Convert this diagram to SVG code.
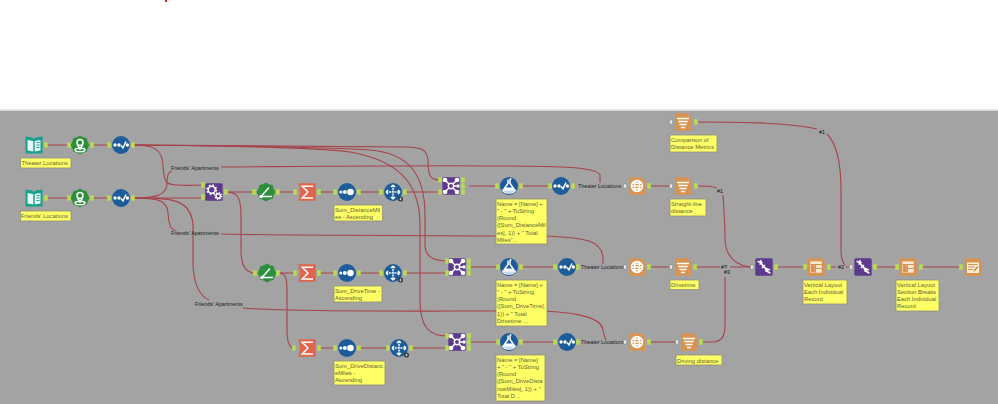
<svg xmlns="http://www.w3.org/2000/svg" width="998" height="404" viewBox="0 0 998 404">
<style>
.w{fill:none;stroke:#a8424a;stroke-width:1.1}
.note{fill:#ffff66;stroke:#8f8f7a;stroke-width:.8}
.nt{font:5.8px "Liberation Sans",Arial,sans-serif;fill:#5f5f33}
.lb{font:5.4px "Liberation Sans",Arial,sans-serif;fill:#1c1c1c}
.hash{font:5.4px "Liberation Sans",Arial,sans-serif;fill:#111}
.s{fill:none;stroke:#fff;stroke-width:1.5}
.f{fill:#fff}
.blue{fill:#1c5c9a}
.green{fill:#2d8f3c}
.purple{fill:#5e3a8e}
.orange{fill:#d99350}
.sum{fill:#e0654a}
</style>
<defs>
<rect id="pin" x="-1.8" y="-2.7" width="3.6" height="5.4" rx=".6" fill="#b8dc50"/>
<rect id="pinw" x="-1.5" y="-2" width="3" height="4" fill="#e8e8e8" stroke="#777" stroke-width=".4"/>
<polygon id="burst" class="green" points="0,-9.500 3,-7.800 6.700,-6.700 7.800,-3 9.500,0 7.800,3 6.700,6.700 3,7.800 0,9.500 -3,7.800 -6.700,6.700 -7.800,3 -9.500,0 -7.800,-3 -6.700,-6.700 -3,-7.800"/>
<g id="i-book">
<path d="M-8.500,-8.500 L-2,-7.500 L0,-6 L2,-7.500 L8.500,-8.500 V8.500 H-8.500Z" fill="#12a08f"/>
<path d="M-6.500,-5 L-.7,-4 V6.500 L-6.500,5.500Z M.7,-4 L6.500,-5 V5.500 L.7,6.500Z" fill="#e8f7f4"/>
<path d="M2.500,-2.500 H5.500 M2.500,0 H5.500 M2.500,2.500 H5.500" stroke="#12a08f" stroke-width="1"/>
</g>
<g id="i-geo">
<use href="#burst"/>
<circle cy="-2.500" r="3" class="s"/>
<path d="M-2.500,0 L0,4 L2.500,0" class="s"/>
<ellipse cy="5" rx="5" ry="1.700" class="s" stroke-width="1"/>
</g>
<g id="i-sel">
<circle r="9" class="blue"/>
<circle cx="-6" cy="0" r="1.700" class="f"/><circle cx="-2" cy="0" r="1.700" class="f"/><circle cx="6.400" cy="0" r="1.700" class="f"/>
<path d="M0,0.500 L2,2.800 L5,-3.500" class="s" stroke-width="1.700"/>
</g>
<g id="i-gear">
<rect x="-8.700" y="-8.700" width="17.400" height="17.400" rx="1.500" class="purple"/>
<circle cx="-2.300" cy="-2.300" r="3.500" class="s" stroke-width="1.300"/>
<circle cx="-2.300" cy="-2.300" r="4.700" class="s" stroke-width="1.400" stroke-dasharray="1.800 1.900"/>
<circle cx="4.300" cy="4" r="2.200" class="s" stroke-width="1"/>
<circle cx="4.300" cy="4" r="3.200" class="s" stroke-width="1" stroke-dasharray="1.200 1.300"/>
</g>
<g id="i-hinge">
<use href="#burst"/>
<path d="M-5,4.500 H6 M-5,4.500 L3,-4.500" class="s" stroke-width="1.700"/>
<circle cx="-5" cy="4.500" r="1.700" class="f"/>
</g>
<g id="i-sum">
<path d="M-8.700,-8.700 H8.700 V8.700 H-8.700 L-7,0Z" class="sum"/>
<path d="M6,-5.800 H-4.800 L1,0 L-4.800,6 H6" class="s" stroke-width="1.700"/>
</g>
<g id="i-sort">
<circle r="9" class="blue"/>
<circle cx="-6.200" r="1.500" class="f"/><circle cx="-2.200" r="2" class="f"/><circle cx="3.500" r="3.300" class="f"/>
</g>
<g id="i-move">
<circle r="9" class="blue"/>
<path d="M-7,0 H7 M0,-7 V7" class="s" stroke-dasharray="2 .8"/>
<path d="M-7,0 L-5,-2 M-7,0 L-5,2 M7,0 L5,-2 M7,0 L5,2 M0,-7 L-2,-5 M0,-7 L2,-5 M0,7 L-2,5 M0,7 L2,5" class="s" stroke-width="1"/>
<circle cx="7.500" cy="7" r="2.500" fill="#333"/>
<path d="M6.200,7 H8.800 M7.500,5.700 V8.300" stroke="#ddd" stroke-width=".8"/>
</g>
<g id="i-append">
<rect x="-8.700" y="-8.700" width="17.400" height="17.400" rx="1.500" class="purple"/>
<circle r="2.700" class="s"/>
<path d="M-2,-2 L-5.500,-5.500 M-2,2 L-5.500,5.500 M2,-2 L5.500,-5.500 M2,2 L5.500,5.500 M2.700,0 H7" class="s" stroke-width="1"/>
<circle cx="-6" cy="-6" r="2.300" class="f"/><circle cx="-6" cy="6" r="2.300" class="f"/><circle cx="6" cy="-6" r="2.300" class="f"/><circle cx="6" cy="6" r="2.300" class="f"/><circle cx="7" r="1.700" class="f"/>
</g>
<g id="i-lab">
<circle r="9" class="blue"/>
<path d="M-1,-6.500 V-2.500 L-5,3 Q-5.500,5 -3,5 H3 Q5.500,5 5,3 L1,-2.500 V-6.500" class="s" stroke-width="1.200"/>
<path d="M-4,1.500 H4 L4.500,4.500 H-4.500Z" class="f"/>
<path d="M-6.500,3.500 Q-6,7 0,7 Q6,7 6.500,3.500" class="s" stroke-width=".9"/>
<circle cx="1.500" cy="-7" r="1" class="f"/>
</g>
<g id="i-globe">
<path d="M-8,-8.700 H4 L8,-4.700 V8.700 H-8Z" class="orange"/>
<circle r="5.500" class="s" stroke-width=".9"/>
<ellipse rx="2.400" ry="5.500" class="s" stroke-width=".8"/>
<path d="M-5.500,0 H5.500 M-4.700,-2.800 H4.700 M-4.700,2.800 H4.700" class="s" stroke-width=".7"/>
</g>
<g id="i-render">
<path d="M-8,-8.700 H4 L8,-4.700 V8.700 H-8Z" class="orange"/>
<path d="M-6,-3.500 H6 M-4.700,-.5 H4.700 M-3.500,2.500 H3.500 M-2,5.500 H2" class="s" stroke-width="1.600"/>
</g>
<g id="i-dna">
<rect x="-8.700" y="-8.700" width="17.400" height="17.400" rx="1.500" class="purple"/>
<path d="M-6.500,-5.500 C-3,-6 -2,-2 0,0 S3,6 6.500,6 M-3,-7 C-4,-3 -2,-2 0,0 S4,2 6,3" class="s" stroke-width="1.500"/>
<path d="M-4.500,-2.500 L-1.500,-5 M-2,1 L1,-2 M1.500,4.500 L4,2" class="s" stroke-width=".9"/>
</g>
<g id="i-layout">
<path d="M-8.700,-8.700 H6.500 L8.700,-6.500 V8.700 H-8.700Z" class="orange"/>
<rect x="-5.700" y="-5.700" width="11.400" height="11.400" fill="#f7e6d2"/>
<path d="M-5.700,-2.500 H5.700 M-.5,-2.500 V5.700 M-.5,1.500 H5.700" stroke="#d99350" stroke-width="1"/>
<rect x="-5" y="-1.800" width="3.800" height="7" class="orange"/>
</g>
<g id="i-doc">
<path d="M-8,-8.700 H5 L8.700,-5 V8.700 H-8Z" class="orange"/>
<rect x="-6" y="-4.500" width="12" height="10.500" fill="#fbeedd"/>
<path d="M-4.800,-2.500 H4.800 M-4.800,0 H1.800 M-4.800,2.500 H0" stroke="#d99350" stroke-width="1"/>
<path d="M1,4 L5,-.5" stroke="#c47a35" stroke-width="1.200"/>
</g>
</defs>

<rect width="998" height="404" fill="#fff"/>
<rect x="165" y="0" width="2" height="2" fill="#e02020"/>
<rect x="0" y="110" width="998" height="294" fill="#a3a3a3"/>
<rect x="0" y="109.500" width="998" height="1.500" fill="#d6d6d6"/>

<!-- wires run behind the tool icons -->
<g id="connectors">
<path class="w" d="M46,145H69M92,145H109"/>
<path class="w" d="M46,198H69M92,198H109"/>
<path class="w" d="M133,198H203M226,192H254M278,192H295M318,192H335M359,192H381M405,192H440"/>
<path class="w" d="M133,145C152,145 162,148 163,165C164,182 165,185 178,185C188,186 195,185 203,185"/>
<path class="w" d="M133,145C250,146 340,147 405,147C422,147 427,150 428,160C428,176 430,180 440,180"/>
<path class="w" d="M133,145C250,146 330,147 370,150C405,153 425,170 425,215V245C425,256 432,261 447,261"/>
<path class="w" d="M133,145C250,146 320,148 350,152C395,160 420,180 420,225V300C420,328 430,336 447,336"/>
<path class="w" d="M133,198C155,198 165,196 167,185C167,175 168,172 172,171"/>
<path class="w" d="M221,167C350,166 450,165 500,166C560,166 597,167 600,175V183"/>
<path class="w" d="M133,198C158,198 167,200 168,213C169,227 171,229 176,231"/>
<path class="w" d="M221,234C310,236 420,235 496,236"/>
<path class="w" d="M547,236C585,238 602,240 603,258V264"/>
<path class="w" d="M133,198C170,198 191,198 193,225V265C194,285 200,296 209,300"/>
<path class="w" d="M243,308C290,312 420,311 496,311"/>
<path class="w" d="M545,311C580,313 602,318 603,330C604,336 605,338 606,340"/>
<path class="w" d="M226,192C236,192 241,195 241,215V250C241,265 245,273 255,273"/>
<path class="w" d="M278,273H295M319,273H335M359,273H381M405,273H447"/>
<path class="w" d="M278,273C285,273 287,276 287,290V330C287,342 289,348 294,348"/>
<path class="w" d="M319,348H335M359,348H388M411,348H447"/>
<path class="w" d="M469,186H497M521,186H550M649,186H671"/>
<path class="w" d="M469,267H498M521,267H555M649,267H671"/>
<path class="w" d="M469,342H498M521,342H555M649,342H677"/>
<path class="w" d="M698,122C750,122 790,123 817,129"/>
<path class="w" d="M827,134C838,145 841,165 841,190V250C841,258 843,263 845,265"/>
<path class="w" d="M698,186C708,186 712,186 717,188"/>
<path class="w" d="M723,195C724,210 725,225 725,240C726,255 733,265 750,267"/>
<path class="w" d="M696,267H720M730,267H752"/>
<path class="w" d="M703,342H712C722,342 725,336 725,325V277"/>
<path class="w" d="M776,267H805M829,267H836M846,267H851M875,267H897M921,267H961"/>
<text class="lb" x="171" y="170">Friends' Apartments</text>
<text class="lb" x="171" y="235">Friends' Apartments</text>
<text class="lb" x="195" y="306">Friends' Apartments</text>
<text class="lb" x="578" y="188">Theater Locations</text>
<text class="lb" x="581" y="269">Theater Locations</text>
<text class="lb" x="581" y="344">Theater Locations</text>
<text class="hash" x="819" y="134">#1</text>
<text class="hash" x="717" y="193">#1</text>
<text class="hash" x="721" y="269">#?</text>
<text class="hash" x="724" y="274">#3</text>
<text class="hash" x="838" y="269">#2</text>
</g>

<g id="theater-input"><use href="#i-book" x="34" y="145"/><use href="#pin" x="46" y="145"/>
<rect class="note" x="20.500" y="158" width="50.500" height="10"/><text class="nt" x="21.500" y="165">Theater Locations</text></g>
<g id="theater-geocode"><use href="#i-geo" x="80" y="145"/><use href="#pin" x="69" y="145"/><use href="#pin" x="92" y="145"/></g>
<g id="theater-select"><use href="#i-sel" x="121" y="145"/><use href="#pin" x="109" y="145"/><use href="#pin" x="133" y="145"/></g>
<g id="friends-input"><use href="#i-book" x="34" y="198"/><use href="#pin" x="46" y="198"/>
<rect class="note" x="20.500" y="211" width="50.500" height="10"/><text class="nt" x="21" y="218">Friends' Locations</text></g>
<g id="friends-geocode"><use href="#i-geo" x="80" y="198"/><use href="#pin" x="69" y="198"/><use href="#pin" x="92" y="198"/></g>
<g id="friends-select"><use href="#i-sel" x="121" y="198"/><use href="#pin" x="109" y="198"/><use href="#pin" x="133" y="198"/></g>
<g id="distance-calc"><use href="#i-gear" x="214" y="192"/><use href="#pin" x="203" y="185"/><use href="#pin" x="203" y="197"/><use href="#pin" x="226" y="192"/></g>

<g id="miles-hinge"><use href="#i-hinge" x="266" y="192"/><use href="#pin" x="254" y="192"/><use href="#pin" x="278" y="192"/></g>
<g id="miles-sum"><use href="#i-sum" x="307" y="192"/><use href="#pin" x="295" y="192"/><use href="#pin" x="319" y="192"/></g>
<g id="miles-sort"><use href="#i-sort" x="347" y="192"/><use href="#pin" x="335" y="192"/><use href="#pin" x="359" y="192"/>
<rect class="note" x="334" y="205" width="48.500" height="16"/><text class="nt" x="335" y="211.500">Sum_DistanceMil</text><text class="nt" x="335" y="218.800">es - Ascending</text></g>
<g id="miles-move"><use href="#i-move" x="393" y="192"/><use href="#pin" x="381" y="192"/><use href="#pin" x="405" y="192"/></g>
<g id="miles-append"><use href="#i-append" x="451" y="186"/><use href="#pin" x="440" y="180"/><use href="#pin" x="440" y="192"/><use href="#pin" x="463" y="180"/><use href="#pin" x="463" y="186"/><use href="#pin" x="463" y="192"/></g>
<g id="miles-formula"><use href="#i-lab" x="509" y="186"/><use href="#pin" x="497" y="186"/><use href="#pin" x="521" y="186"/>
<rect class="note" x="496" y="199" width="51" height="45"/><text class="nt" x="497" y="205.500">Name = [Name] +</text><text class="nt" x="497" y="212.800">" - " + ToString</text><text class="nt" x="497" y="220.100">(Round</text><text class="nt" x="497" y="227.400">([Sum_DistanceMil</text><text class="nt" x="497" y="234.700">es], 1)) + " Total</text><text class="nt" x="497" y="242">Miles"...</text></g>
<g id="miles-select"><use href="#i-sel" x="561" y="186"/><use href="#pin" x="550" y="186"/><use href="#pin" x="573" y="186"/></g>
<g id="miles-globe"><use href="#i-globe" x="637" y="186"/><use href="#pinw" x="625" y="186"/><use href="#pin" x="649" y="186"/></g>
<g id="straight-line-render"><use href="#i-render" x="683" y="186"/><use href="#pinw" x="671" y="186"/><use href="#pin" x="696" y="186"/>
<rect class="note" x="670" y="199" width="36" height="17"/><text class="nt" x="671" y="205.500">Straight-line</text><text class="nt" x="671" y="212.800">distance</text></g>
<g id="comparison-render"><use href="#i-render" x="683" y="122"/><use href="#pinw" x="671" y="122"/><use href="#pin" x="696" y="122"/>
<rect class="note" x="670" y="135" width="47" height="17"/><text class="nt" x="671" y="141.500">Comparison of</text><text class="nt" x="671" y="148.800">Distance Metrics</text></g>

<g id="time-hinge"><use href="#i-hinge" x="267" y="273"/><use href="#pin" x="255" y="273"/><use href="#pin" x="278" y="273"/></g>
<g id="time-sum"><use href="#i-sum" x="307" y="273"/><use href="#pin" x="295" y="273"/><use href="#pin" x="319" y="273"/></g>
<g id="time-sort"><use href="#i-sort" x="347" y="273"/><use href="#pin" x="335" y="273"/><use href="#pin" x="359" y="273"/>
<rect class="note" x="334" y="286" width="48" height="16"/><text class="nt" x="335" y="292.500">Sum_DriveTime -</text><text class="nt" x="335" y="299.800">Ascending</text></g>
<g id="time-move"><use href="#i-move" x="393" y="273"/><use href="#pin" x="381" y="273"/><use href="#pin" x="405" y="273"/></g>
<g id="time-append"><use href="#i-append" x="457" y="267"/><use href="#pin" x="447" y="261"/><use href="#pin" x="447" y="273"/><use href="#pin" x="469" y="261"/><use href="#pin" x="469" y="267"/><use href="#pin" x="469" y="273"/></g>
<g id="time-formula"><use href="#i-lab" x="509" y="267"/><use href="#pin" x="498" y="267"/><use href="#pin" x="521" y="267"/>
<rect class="note" x="496" y="280" width="51" height="46"/><text class="nt" x="497" y="286.500">Name = [Name] +</text><text class="nt" x="497" y="293.800">" - " + ToString</text><text class="nt" x="497" y="301.100">(Round</text><text class="nt" x="497" y="308.400">([Sum_DriveTime],</text><text class="nt" x="497" y="315.700">1)) + " Total</text><text class="nt" x="497" y="323">Drivetime ...</text></g>
<g id="time-select"><use href="#i-sel" x="567" y="267"/><use href="#pin" x="555" y="267"/><use href="#pin" x="578" y="267"/></g>
<g id="time-globe"><use href="#i-globe" x="637" y="267"/><use href="#pinw" x="625" y="267"/><use href="#pin" x="649" y="267"/></g>
<g id="drivetime-render"><use href="#i-render" x="683" y="267"/><use href="#pinw" x="671" y="267"/><use href="#pin" x="695" y="267"/>
<rect class="note" x="670" y="280" width="29" height="9.500"/><text class="nt" x="671" y="287">Drivetime</text></g>

<g id="drive-miles-sum"><use href="#i-sum" x="307" y="348"/><use href="#pin" x="294" y="348"/><use href="#pin" x="319" y="348"/></g>
<g id="drive-miles-sort"><use href="#i-sort" x="347" y="348"/><use href="#pin" x="335" y="348"/><use href="#pin" x="359" y="348"/>
<rect class="note" x="334" y="361" width="51" height="24"/><text class="nt" x="335" y="367.500">Sum_DriveDistanc</text><text class="nt" x="335" y="374.800">eMiles -</text><text class="nt" x="335" y="382.100">Ascending</text></g>
<g id="drive-miles-move"><use href="#i-move" x="399" y="348"/><use href="#pin" x="388" y="348"/><use href="#pin" x="411" y="348"/></g>
<g id="drive-miles-append"><use href="#i-append" x="457" y="342"/><use href="#pin" x="447" y="336"/><use href="#pin" x="447" y="348"/><use href="#pin" x="469" y="336"/><use href="#pin" x="469" y="342"/><use href="#pin" x="469" y="348"/></g>
<g id="drive-miles-formula"><use href="#i-lab" x="509" y="342"/><use href="#pin" x="498" y="342"/><use href="#pin" x="521" y="342"/>
<rect class="note" x="496" y="355" width="49" height="46"/><text class="nt" x="497" y="361.500">Name = [Name]</text><text class="nt" x="497" y="368.800">+ " - " + ToString</text><text class="nt" x="497" y="376.100">(Round</text><text class="nt" x="497" y="383.400">([Sum_DriveDista</text><text class="nt" x="497" y="390.700">nceMiles], 1)) + "</text><text class="nt" x="497" y="398">Total D...</text></g>
<g id="drive-miles-select"><use href="#i-sel" x="567" y="342"/><use href="#pin" x="555" y="342"/><use href="#pin" x="578" y="342"/></g>
<g id="drive-miles-globe"><use href="#i-globe" x="637" y="342"/><use href="#pinw" x="625" y="342"/><use href="#pin" x="649" y="342"/></g>
<g id="driving-distance-render"><use href="#i-render" x="689" y="342"/><use href="#pinw" x="677" y="342"/><use href="#pin" x="701" y="342"/>
<rect class="note" x="676" y="355" width="46" height="10"/><text class="nt" x="677" y="362.500">Driving distance</text></g>

<g id="union-one"><use href="#i-dna" x="764" y="267"/><use href="#pinw" x="752" y="267"/><use href="#pin" x="776" y="267"/></g>
<g id="layout-one"><use href="#i-layout" x="816" y="267"/><use href="#pin" x="805" y="267"/><use href="#pin" x="829" y="267"/>
<rect class="note" x="803" y="280" width="44" height="24"/><text class="nt" x="804" y="286.500">Vertical Layout</text><text class="nt" x="804" y="293.800">Each Individual</text><text class="nt" x="804" y="301.100">Record</text></g>
<g id="union-two"><use href="#i-dna" x="863" y="267"/><use href="#pinw" x="851" y="267"/><use href="#pin" x="875" y="267"/></g>
<g id="layout-two"><use href="#i-layout" x="908" y="267"/><use href="#pin" x="897" y="267"/><use href="#pin" x="921" y="267"/>
<rect class="note" x="896" y="280" width="43" height="31"/><text class="nt" x="897" y="286.500">Vertical Layout</text><text class="nt" x="897" y="293.800">Section Breaks</text><text class="nt" x="897" y="301.100">Each Individual</text><text class="nt" x="897" y="308.400">Record</text></g>
<g id="report-output"><use href="#i-doc" x="973" y="267"/><use href="#pin" x="961" y="267"/></g>
</svg>
